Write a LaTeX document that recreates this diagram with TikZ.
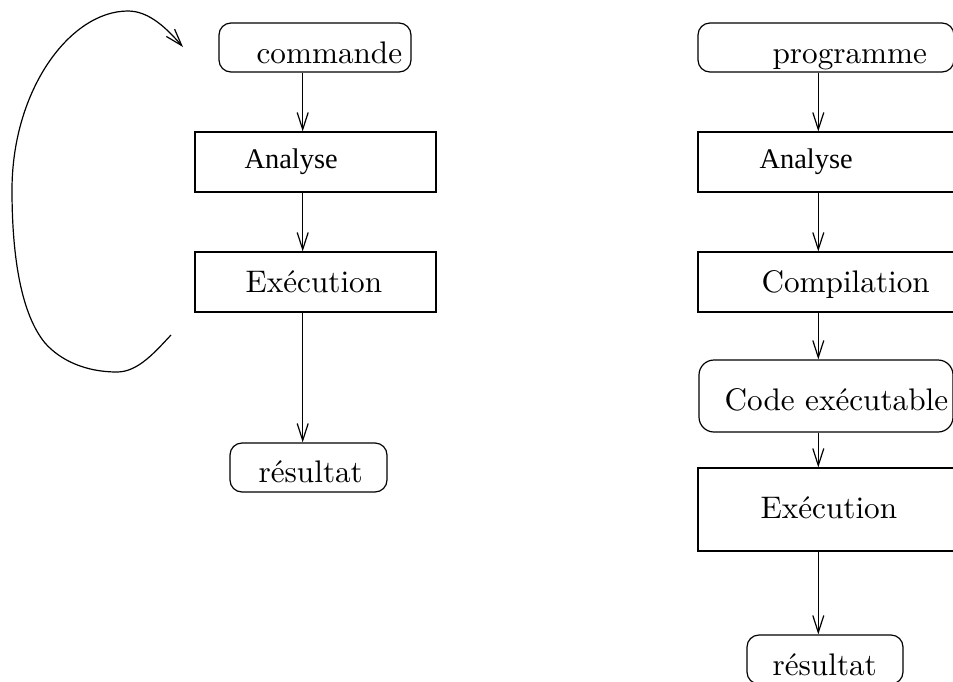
\documentclass[tikz,border=0pt]{standalone}
\usepackage{fontspec}
\newfontfamily\timesf{Liberation Serif}
\newfontfamily\cmten{lmroman10-regular.otf}
\usetikzlibrary{arrows.meta}
\begin{document}
\begin{tikzpicture}[x=0.5pt,y=-0.5pt,
  line width=0.6pt,
  rbox/.style={draw, rounded corners=6pt, inner sep=0pt},
  sbox/.style={draw, inner sep=0pt},
  lbl/.style={anchor=base west, inner sep=0pt, font=\cmten\fontsize{15.6}{18}\selectfont},
  tlbl/.style={anchor=base west, inner sep=0pt, font=\timesf\fontsize{14.2}{17}\selectfont},
  arr/.style={-{Straight Barb[length=8.5pt,width=5.5pt,line width=0.6pt]}}]
\useasboundingbox (0,0) rectangle (953,681);
\clip (0,0) rectangle (953,681);
% left column
\coordinate (colL) at (302.7,0);
\node[rbox, minimum width=96pt, minimum height=24.5pt] (cmd) at (315,47.5) {};
\node[sbox, minimum width=120.5pt, minimum height=30pt] (an1) at (315.5,162) {};
\node[sbox, minimum width=120.5pt, minimum height=30pt] (ex1) at (315.5,282) {};
\node[rbox, minimum width=78.5pt, minimum height=24.5pt] (res1) at (308.5,467.5) {};
\node[lbl] (tcmd) at (256,63) {commande};
\node[tlbl] (tan1) at (244,168) {Analyse};
\node[lbl] (tex1) at (245,292) {Exécution};
\node[lbl] (tres1) at (258,482) {résultat};
\draw[arr] (cmd.south -| colL) -- (an1.north -| colL);
\draw[arr] (an1.south -| colL) -- (ex1.north -| colL);
\draw[arr] (ex1.south -| colL) -- (res1.north -| colL);
% loop arc
\coordinate (arcS) at (171,335);
\coordinate (arcE) at (183,47);
\draw[arr] (arcS) .. controls (155,352) and (138,372) .. (117,372)
  .. controls (85,372) and (60,360) .. (45,343)
  .. controls (22,315) and (12,260) .. (12,190)
  .. controls (12,90) and (70,11) .. (128,11)
  .. controls (150,11) and (168,30) .. (arcE);
% right column
\coordinate (colR) at (818.3,0);
\node[rbox, minimum width=128pt, minimum height=24.5pt] (prog) at (826,47.5) {};
\node[sbox, minimum width=131pt, minimum height=30pt] (an2) at (829,162) {};
\node[sbox, minimum width=131pt, minimum height=30pt] (comp) at (829,282) {};
\node[rbox, rounded corners=7.5pt, minimum width=127pt, minimum height=36pt] (code) at (826,396) {};
\node[sbox, minimum width=131pt, minimum height=41.5pt] (ex2) at (829,509.5) {};
\node[rbox, minimum width=78pt, minimum height=24.5pt] (res2) at (825,659.5) {};
\node[lbl] (tprog) at (772,63) {programme};
\node[tlbl] (tan2) at (759,168) {Analyse};
\node[lbl] (tcomp) at (761,292) {Compilation};
\node[lbl] (tcode) at (724,410) {Code exécutable};
\node[lbl] (tex2) at (760,518) {Exécution};
\node[lbl] (tres2) at (772,675) {résultat};
\draw[arr] (prog.south -| colR) -- (an2.north -| colR);
\draw[arr] (an2.south -| colR) -- (comp.north -| colR);
\draw[arr] (comp.south -| colR) -- (code.north -| colR);
\draw[arr] (code.south -| colR) -- (ex2.north -| colR);
\draw[arr] (ex2.south -| colR) -- (res2.north -| colR);
\end{tikzpicture}
\end{document}
